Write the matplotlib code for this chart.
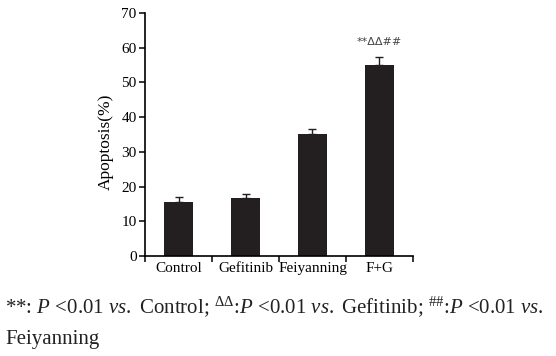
import matplotlib
matplotlib.use('Agg')
from matplotlib import pyplot as plt

groups = ['Control', 'Gefitinib', 'Feiyanning', 'F+G']
apoptosis = [15.6, 16.8, 35.1, 55.1]
errors = [1.3, 1.0, 1.6, 2.3]
yticks = [0, 10, 20, 30, 40, 50, 60, 70]

plt.rcParams['font.family'] = 'Liberation Serif'
plt.rcParams['mathtext.fontset'] = 'custom'
plt.rcParams['mathtext.rm'] = 'Liberation Serif'
plt.rcParams['mathtext.it'] = 'Liberation Serif:italic'

fig = plt.figure(figsize=(5.56, 3.56), dpi=100)
ax = fig.add_axes([0.2608, 0.2809, 0.482, 0.6826])

x = list(range(len(groups)))
ax.bar(x, apoptosis, width=0.42, color='#231f20')
ax.errorbar(x, apoptosis, yerr=[[0] * len(errors), errors], fmt='none',
            ecolor='#231f20', elinewidth=1.0, capsize=3, capthick=1.0)

ax.annotate('**ΔΔ##', xy=(3, apoptosis[3] + errors[3]), xytext=(0, 7),
            textcoords='offset points', ha='center', va='bottom',
            fontsize=8, color='#444444', family='DejaVu Sans')

ax.set_xlim(-0.5, 3.5)
ax.set_ylim(0, 70)
ax.set_yticks(yticks)
ax.set_xticks(x)
ax.set_xticklabels(groups)
ax.set_xticks([-0.5, 0.5, 1.5, 2.5, 3.5], minor=True)
ax.tick_params(axis='x', which='major', length=0, pad=4, labelsize=11)
ax.tick_params(axis='x', which='minor', length=4, width=1.1, direction='out')
ax.tick_params(axis='y', length=4, width=1.1, direction='out', pad=2, labelsize=11)
ax.set_ylabel('Apoptosis(%)', fontsize=12.5)
ax.yaxis.set_label_coords(-0.115, 0.47)

for side in ['top', 'right']:
    ax.spines[side].set_visible(False)
for side in ['left', 'bottom']:
    ax.spines[side].set_linewidth(1.2)

# footnote below the chart
fig.text(0.009, 0.121,
         r'**: $P$ <0.01 $vs.$ Control; $^{\Delta\Delta}$:$P$ <0.01 $vs.$ Gefitinib; $^{\#\#}$:$P$ <0.01 $vs.$',
         fontsize=15, color='#222222', va='baseline')
fig.text(0.009, 0.034, 'Feiyanning', fontsize=15, color='#222222', va='baseline')

plt.savefig('out.png', dpi=100)
